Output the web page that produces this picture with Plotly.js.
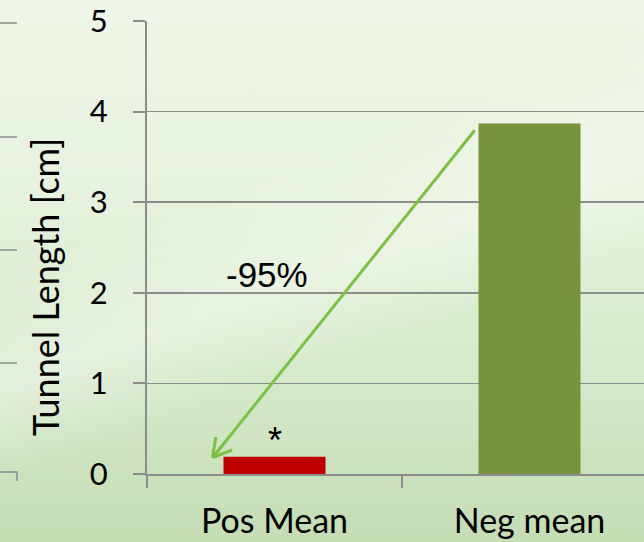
<!DOCTYPE html>
<html>
<head>
<meta charset="utf-8">
<script src="https://cdn.plot.ly/plotly-3.0.1.min.js"></script>
<style>
  html, body { margin: 0; padding: 0; width: 644px; height: 542px; overflow: hidden; }
  body {
    background:
      linear-gradient(160deg, rgba(255,255,255,0) 35%, rgba(255,255,255,0.35) 50%, rgba(255,255,255,0) 62%),
      linear-gradient(to bottom, #eff6e9 0%, #e7f2de 35%, #d8eacd 65%, #c4ddb5 100%);
  }
  #chart { width: 660px; height: 542px; }
</style>
</head>
<body>
<div id="chart"></div>
<script>
// Tunnel length, mean per group
const categories = ['Pos Mean', 'Neg mean'];
const tunnelLength = [0.19, 3.87];
const barColors = ['#c00000', '#77933c'];
const yTicks = [0, 1, 2, 3, 4, 5];
const yTitle = 'Tunnel Length [cm]';
const changeLabel = '-95%';
const signifLabel = '*';

const W = 660, H = 542;
const M = { l: 147, r: 3, t: 21, b: 68 };
const plotW = W - M.l - M.r, plotH = H - M.t - M.b;
const yMax = 5;

// pixel -> axis value helpers (category axis spans -0.5 .. 1.5)
const px2x = px => (px - M.l) / plotW * 2 - 0.5;
const py2y = py => (H - M.b - py) / plotH * yMax;
const px2paper = px => (px - M.l) / plotW;
const py2paper = py => (H - M.b - py) / plotH;

const gridGray = '#8c8c8c';
const arrowGreen = '#7cc142';
const labelFont = 'Lato, "Open Sans", sans-serif';

// arrow from the top of the tall bar down to the short one
const tail = { x: 1 - 0.21, y: tunnelLength[1] - 0.06 };
const tip = { x: -0.243, y: tunnelLength[0] - 0.01 };

// open "V" head, built in pixel space
const toPx = p => ({ X: M.l + (p.x + 0.5) / 2 * plotW, Y: H - M.b - p.y / yMax * plotH });
const tP = toPx(tip), aP = toPx(tail);
const ang = Math.atan2(aP.Y - tP.Y, aP.X - tP.X);
const headLen = 21, headSpread = 0.52;
const arms = [ang - headSpread, ang + headSpread].map(a => ({
  x: px2x(tP.X + headLen * Math.cos(a)),
  y: py2y(tP.Y + headLen * Math.sin(a))
}));

const shapes = arms.map(a => ({
  type: 'line', xref: 'x', yref: 'y',
  x0: tip.x, y0: tip.y, x1: a.x, y1: a.y,
  line: { color: arrowGreen, width: 3 }
}));

// stub lines of the neighbouring panel at the left edge
[23, 137, 250, 363].forEach(py => shapes.push({
  type: 'line', xref: 'paper', yref: 'paper',
  x0: px2paper(0), x1: px2paper(17), y0: py2paper(py), y1: py2paper(py),
  line: { color: gridGray, width: 1.5 }
}));
shapes.push({
  type: 'path', xref: 'paper', yref: 'paper',
  path: 'M ' + px2paper(0) + ' ' + py2paper(472) + ' L ' + px2paper(17) + ' ' + py2paper(472) +
        ' L ' + px2paper(17) + ' ' + py2paper(481),
  line: { color: gridGray, width: 1.5 }
});

const trace = {
  type: 'bar',
  x: categories,
  y: tunnelLength,
  width: 0.4,
  marker: { color: barColors },
  hoverinfo: 'skip'
};

const layout = {
  width: W, height: H,
  margin: M,
  paper_bgcolor: 'rgba(0,0,0,0)',
  plot_bgcolor: 'rgba(0,0,0,0)',
  showlegend: false,
  font: { family: labelFont, color: '#000' },
  xaxis: {
    type: 'category',
    range: [-0.5, 1.5],
    showgrid: false, zeroline: false,
    showline: true, linecolor: gridGray, linewidth: 2,
    ticks: 'outside', tickson: 'boundaries', ticklen: 12, tickwidth: 2, tickcolor: gridGray,
    ticklabelstandoff: 16,
    tickfont: { size: 34, family: labelFont, color: '#000' },
    fixedrange: true
  },
  yaxis: {
    range: [0, yMax],
    tickvals: yTicks,
    showgrid: true, gridcolor: gridGray, gridwidth: 1.5,
    zeroline: false,
    showline: true, linecolor: gridGray, linewidth: 2,
    ticks: 'outside', ticklen: 12, tickwidth: 2, tickcolor: gridGray,
    ticklabelstandoff: 19,
    tickfont: { size: 31, family: labelFont, color: '#000' },
    fixedrange: true
  },
  shapes: shapes,
  annotations: [
    {
      x: px2paper(45), y: py2paper(287), xref: 'paper', yref: 'paper',
      text: yTitle, textangle: -90, showarrow: false,
      xanchor: 'center', yanchor: 'middle',
      font: { size: 36, family: labelFont, color: '#000' }
    },
    {
      x: tip.x, y: tip.y, ax: tail.x, ay: tail.y,
      xref: 'x', yref: 'y', axref: 'x', ayref: 'y',
      text: '', showarrow: true, arrowhead: 0, arrowwidth: 3, arrowcolor: arrowGreen,
      standoff: 0, startstandoff: 0
    },
    {
      x: -0.03, y: 2.2, xref: 'x', yref: 'y',
      text: changeLabel, showarrow: false,
      font: { family: '"Liberation Sans", Arial, sans-serif', size: 35, color: '#000' }
    },
    {
      x: 0.003, y: tunnelLength[0], xref: 'x', yref: 'y', yanchor: 'bottom', yshift: -6,
      text: signifLabel, showarrow: false,
      font: { family: '"Liberation Sans", Arial, sans-serif', size: 36, color: '#000' }
    }
  ]
};

Plotly.newPlot('chart', [trace], layout, { displayModeBar: false, staticPlot: true });
</script>
</body>
</html>
